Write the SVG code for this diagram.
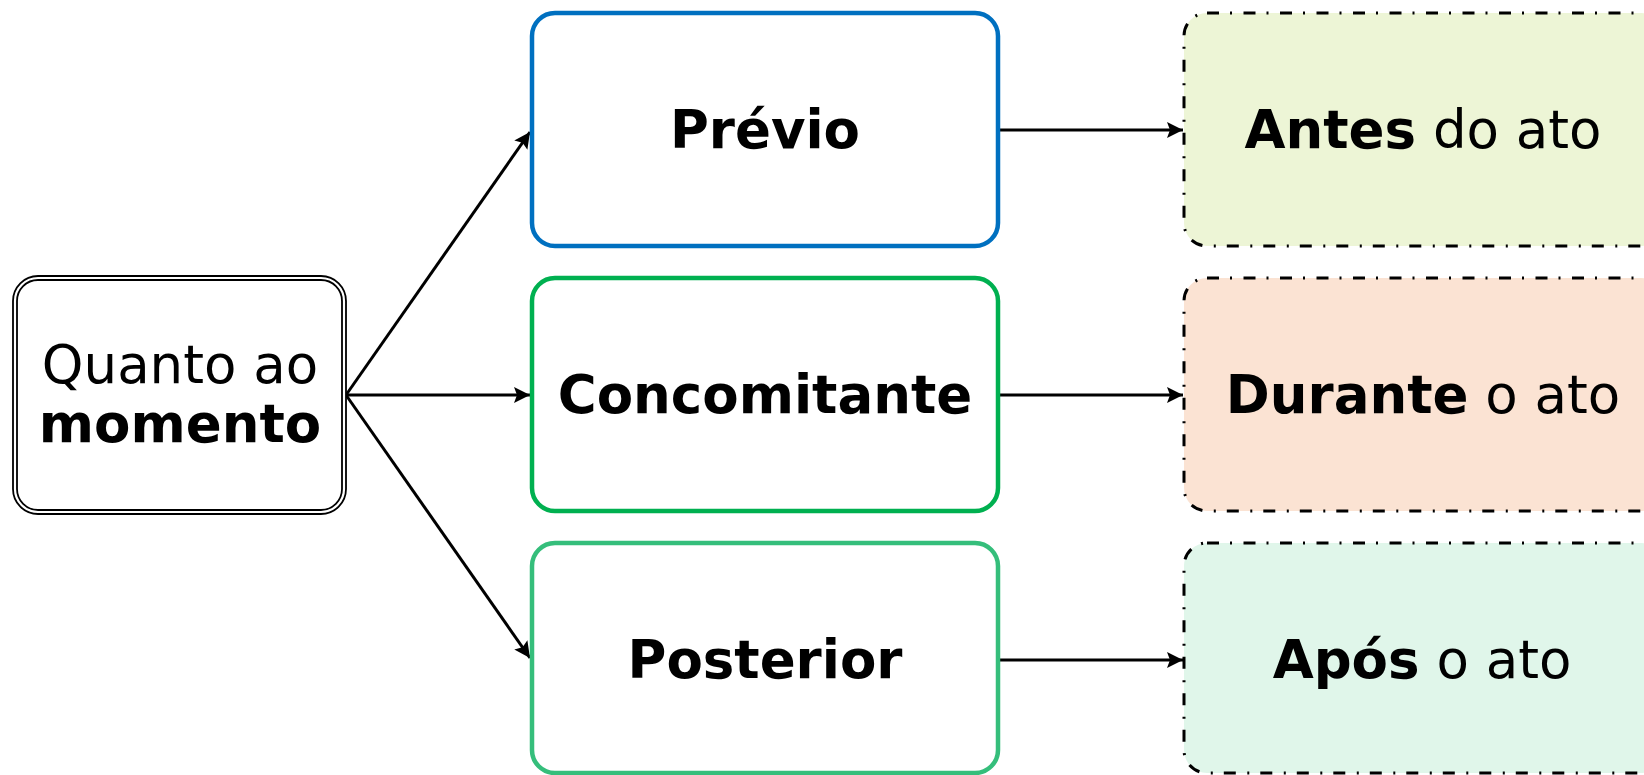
<svg xmlns="http://www.w3.org/2000/svg" width="1644" height="775" viewBox="0 0 1644 775">
<style>
text{font-family:"DejaVu Sans","Noto Sans",sans-serif;font-size:53px;fill:#000;text-anchor:middle}
.b{font-weight:bold}
.mid{fill:#fff;stroke-width:4.5}
.res{stroke:#000;stroke-width:3;stroke-dasharray:12 11 2 11.5}
.conn{stroke:#000;stroke-width:3;fill:none;marker-end:url(#ah)}
</style>
<defs>
<marker id="ah" markerUnits="userSpaceOnUse" markerWidth="18" markerHeight="18" refX="16" refY="8.5" orient="auto">
<path d="M0,0.5 L16,8.5 L0,16.5 L3,8.5 Z" fill="#000"/>
</marker>
</defs>
<rect width="1644" height="775" fill="#fff"/>
<g id="connectors">
<line class="conn" x1="346" y1="395" x2="530" y2="132"/>
<line class="conn" x1="346" y1="395" x2="530" y2="395"/>
<line class="conn" x1="346" y1="395" x2="530" y2="658"/>
<line class="conn" x1="1000" y1="130" x2="1183" y2="130"/>
<line class="conn" x1="1000" y1="395" x2="1183" y2="395"/>
<line class="conn" x1="1000" y1="660" x2="1183" y2="660"/>
</g>
<g id="node-momento">
<rect x="13" y="276" width="333" height="238" rx="25" fill="#fff" stroke="#000" stroke-width="1.8"/>
<rect x="17" y="280" width="325" height="230" rx="21" fill="none" stroke="#000" stroke-width="1.8"/>
<text x="180" y="383">Quanto ao</text>
<text x="180" y="442" class="b">momento</text>
</g>
<g id="node-previo">
<rect class="mid" x="532" y="13" width="466" height="233" rx="23" stroke="#0070C0"/>
<text x="765" y="148" class="b">Prévio</text>
</g>
<g id="node-concomitante">
<rect class="mid" x="532" y="278" width="466" height="233" rx="23" stroke="#00B050"/>
<text x="765" y="413" class="b">Concomitante</text>
</g>
<g id="node-posterior">
<rect class="mid" x="532" y="543" width="466" height="230" rx="23" stroke="#35BE7B"/>
<text x="765" y="678" class="b">Posterior</text>
</g>
<g id="node-antes">
<rect class="res" x="1184" y="13" width="480" height="233" rx="23" fill="#EDF5D6"/>
<text x="1423" y="148"><tspan class="b">Antes</tspan> do ato</text>
</g>
<g id="node-durante">
<rect class="res" x="1184" y="278" width="480" height="233" rx="23" fill="#FBE3D3"/>
<text x="1423" y="413"><tspan class="b">Durante</tspan> o ato</text>
</g>
<g id="node-apos">
<rect class="res" x="1184" y="543" width="480" height="230" rx="23" fill="#E0F6EA"/>
<text x="1422" y="678"><tspan class="b">Após</tspan> o ato</text>
</g>
</svg>
